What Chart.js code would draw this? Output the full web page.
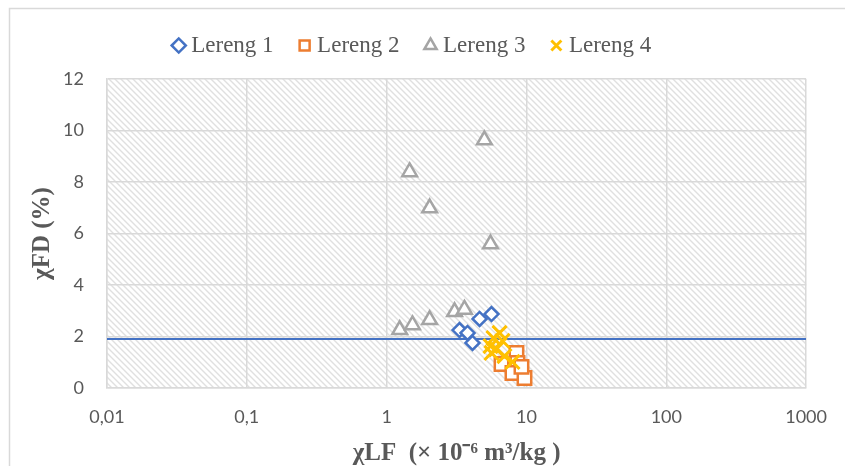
<!DOCTYPE html>
<html>
<head>
<meta charset="utf-8">
<script src="https://cdn.jsdelivr.net/npm/chart.js@4/dist/chart.umd.min.js"></script>
<style>
  html, body { margin: 0; padding: 0; background: #fff; }
  #wrap { width: 845px; height: 466px; position: relative; }
</style>
</head>
<body>
<div id="wrap"><canvas id="myChart" width="845" height="466"></canvas></div>
<script>
// values
const lereng1X = [3.32, 3.79, 4.11, 4.62, 5.62];
const lereng1Y = [2.25, 2.14, 1.75, 2.68, 2.87];

const lereng2X = [6.63, 8.48, 8.62, 7.94, 9.68, 9.21];
const lereng2Y = [0.93, 1.36, 0.97, 0.58, 0.39, 0.82];

const lereng3X = [1.46, 5.0, 2.03, 5.53, 1.24, 1.53, 2.03, 3.06, 3.6];
const lereng3Y = [8.39, 9.63, 6.99, 5.59, 2.26, 2.45, 2.65, 2.96, 3.05];

const lereng4X = [6.42, 5.81, 6.74, 5.53, 6.1, 5.62, 6.96, 7.94];
const lereng4Y = [2.14, 1.94, 1.83, 1.63, 1.51, 1.36, 1.24, 1.01];

const limitX = [0.01, 1000];
const limitY = [1.9, 1.9];

const xTicks = [0.01, 0.1, 1, 10, 100, 1000];

const toPoints = (xs, ys) => xs.map((x, i) => ({ x: x, y: ys[i] }));

// hatch fill for the plot area
const makeHatch = () => {
    const c = document.createElement('canvas');
    c.width = 6;
    c.height = 6;
    const g = c.getContext('2d');
    g.fillStyle = '#ffffff';
    g.fillRect(0, 0, 6, 6);
    g.strokeStyle = '#e0e0e0';
    g.lineWidth = 1.4;
    g.beginPath();
    g.moveTo(-1, -1); g.lineTo(7, 7);
    g.moveTo(-1, 5); g.lineTo(1, 7);
    g.moveTo(5, -1); g.lineTo(7, 1);
    g.stroke();
    return g.createPattern(c, 'repeat');
};

const backdrop = {
    id: 'backdrop',
    afterInit(chart) {
        // fixed legend band height and small shift to the right
        const legend = chart.legend;
        const fit = legend.fit.bind(legend);
        legend.fit = function () {
            fit();
            this.height = 75;
        };
        const draw = legend.draw.bind(legend);
        legend.draw = function () {
            const ctx = chart.ctx;
            ctx.save();
            ctx.translate(11, 0);
            draw();
            ctx.restore();
        };
    },
    beforeDraw(chart) {
        const ctx = chart.ctx;
        const a = chart.chartArea;
        ctx.save();
        ctx.fillStyle = '#ffffff';
        ctx.fillRect(0, 0, chart.width, chart.height);
        ctx.strokeStyle = '#d9d9d9';
        ctx.lineWidth = 1.5;
        ctx.strokeRect(9.5, 8.5, 900, 500);
        ctx.fillStyle = makeHatch();
        ctx.fillRect(a.left, a.top, a.right - a.left, a.bottom - a.top);
        ctx.restore();
    }
};

const ctx = document.getElementById('myChart');

const myChart = new Chart(ctx, {
    type: 'scatter',
    data: {
        datasets: [{
            label: 'Lereng 1',
            data: toPoints(lereng1X, lereng1Y),
            pointStyle: 'rectRot',
            pointRadius: 7,
            pointHoverRadius: 7,
            borderWidth: 2.5,
            borderColor: '#4472C4',
            backgroundColor: '#ffffff',
            order: 4
        }, {
            label: 'Lereng 2',
            data: toPoints(lereng2X, lereng2Y),
            pointStyle: 'rect',
            pointRadius: 9.5,
            pointHoverRadius: 9.5,
            borderWidth: 2.5,
            borderColor: '#ED7D31',
            backgroundColor: '#ffffff',
            order: 3
        }, {
            label: 'Lereng 3',
            data: toPoints(lereng3X, lereng3Y),
            pointStyle: 'triangle',
            pointRadius: 8.5,
            pointHoverRadius: 8.5,
            borderWidth: 2.5,
            borderColor: '#A5A5A5',
            backgroundColor: '#ffffff',
            order: 2
        }, {
            label: 'Lereng 4',
            data: toPoints(lereng4X, lereng4Y),
            pointStyle: 'crossRot',
            pointRadius: 10,
            pointHoverRadius: 10,
            borderWidth: 3,
            borderColor: '#FFC000',
            backgroundColor: '#FFC000',
            order: 1
        }, {
            label: 'batas',
            type: 'line',
            data: toPoints(limitX, limitY),
            borderColor: '#4472C4',
            borderWidth: 2,
            pointRadius: 0,
            fill: false,
            order: 5
        }]
    },
    options: {
        responsive: false,
        animation: false,
        events: [],
        layout: {
            padding: { left: 0, right: 38, top: 4, bottom: 0 }
        },
        scales: {
            x: {
                type: 'logarithmic',
                min: 0.01,
                max: 1000,
                afterBuildTicks: (scale) => {
                    scale.ticks = xTicks.map((v) => ({ value: v, major: true }));
                },
                afterFit: (scale) => { scale.height = 78; },
                ticks: {
                    autoSkip: false,
                    maxRotation: 0,
                    padding: 18,
                    color: '#595959',
                    font: { family: 'Lato', size: 18 },
                    callback: (v) => String(v).replace('.', ',')
                },
                grid: { color: '#d9d9d9', lineWidth: 1.5, drawTicks: false },
                border: { color: '#d9d9d9', width: 1.5 },
                title: {
                    display: true,
                    text: 'χLF  (× 10⁻⁶ m³/kg )',
                    color: '#595959',
                    font: { family: 'Liberation Serif', size: 25, weight: 'bold', lineHeight: 1 },
                    padding: { top: 0, bottom: 0 }
                }
            },
            y: {
                min: 0,
                max: 12,
                afterFit: (scale) => { scale.width = 107; },
                ticks: {
                    stepSize: 2,
                    padding: 23,
                    color: '#595959',
                    font: { family: 'Lato', size: 18 }
                },
                grid: { color: '#d9d9d9', lineWidth: 1.5, drawTicks: false },
                border: { color: '#d9d9d9', width: 1.5 },
                title: {
                    display: true,
                    text: 'χFD (%)',
                    color: '#595959',
                    font: { family: 'Liberation Serif', size: 25, weight: 'bold', lineHeight: 1 },
                    padding: { top: 30, bottom: 0 }
                }
            }
        },
        plugins: {
            legend: {
                position: 'top',
                labels: {
                    usePointStyle: true,
                    boxWidth: 2,
                    boxHeight: 10,
                    padding: 30,
                    color: '#595959',
                    font: { family: 'Liberation Serif', size: 23 },
                    filter: (item) => item.datasetIndex < 4,
                    sort: (a, b) => a.datasetIndex - b.datasetIndex
                }
            },
            tooltip: { enabled: false }
        }
    },
    plugins: [backdrop]
});
</script>
</body>
</html>
